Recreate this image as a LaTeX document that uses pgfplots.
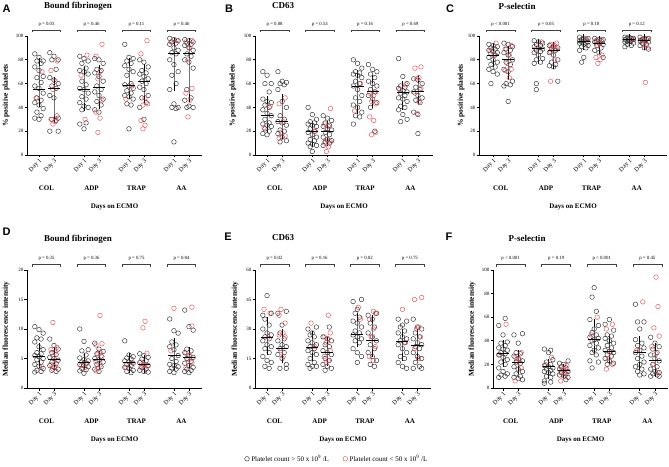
\documentclass[border=0pt]{standalone}
\usepackage{pgfplots}
\pgfplotsset{compat=1.18}
\usepackage{fontspec}
\setmainfont{Liberation Serif}
\setsansfont{Liberation Sans}
\definecolor{ptred}{RGB}{226,80,92}
\definecolor{ptblk}{RGB}{45,45,45}
\pgfplotsset{
  panel/.style={
    scale only axis, axis lines=left, axis line style={-, line width=0.9pt},
    clip=false, ymin=0,
    xtick={0,1,3,4,6,7,9,10},
    xticklabels={Day 1,Day 3,Day 1,Day 3,Day 1,Day 3,Day 1,Day 3},
    x tick label style={rotate=45, anchor=north east, font=\fontsize{6.3}{6.3}\selectfont, inner sep=0.5pt},
    y tick label style={font=\fontsize{5}{5}\selectfont, inner sep=1pt},
    tick align=outside, major tick length=2.5pt,
    tick style={black, line width=0.7pt},
    /pgf/number format/assume math mode=true,
    ylabel style={font=\bfseries\fontsize{7.5}{8}\selectfont, anchor=center},
  },
  bpt/.style={only marks, mark=o, mark size=2.3pt, ptblk, mark options={line width=0.45pt}},
  rpt/.style={only marks, mark=o, mark size=2.3pt, ptred, mark options={line width=0.45pt}},
  medi/.style={forget plot, only marks, mark=-, mark size=6pt, black, mark options={line width=0.9pt, black},
    error bars/.cd, y dir=both, y explicit,
    error bar style={line width=0.8pt, black!55},
    error mark options={mark size=4pt, line width=0.8pt, black}},
}
\newcommand{\pbr}[5]{%
  \draw[line width=0.55pt, black!75] ([yshift=3.5pt]axis cs:#1,#4) -- ([yshift=6pt]axis cs:#1,#4) -- ([yshift=6pt]axis cs:#2,#4) -- ([yshift=3.5pt]axis cs:#2,#4);
  \node[font=\fontsize{4.8}{5}\selectfont, inner sep=0pt] at ([yshift=11.5pt]axis cs:#3,#4) {#5};
}
\newcommand{\grp}{%
  \node[font=\bfseries\fontsize{7}{7}\selectfont] at ([yshift=-33pt]axis cs:0.5,0) {COL};
  \node[font=\bfseries\fontsize{7}{7}\selectfont] at ([yshift=-33pt]axis cs:3.5,0) {ADP};
  \node[font=\bfseries\fontsize{7}{7}\selectfont] at ([yshift=-33pt]axis cs:6.5,0) {TRAP};
  \node[font=\bfseries\fontsize{7}{7}\selectfont] at ([yshift=-33pt]axis cs:9.5,0) {AA};
  \node[font=\bfseries\fontsize{7}{7}\selectfont] at ([yshift=-52pt]axis description cs:0.5,0) {Days on ECMO};
}
\begin{document}
\begin{tikzpicture}
\useasboundingbox (0,0) rectangle (669pt,466pt);
% ---------------- A ----------------
\begin{axis}[panel, at={(27pt,311pt)}, anchor=south west, width=175pt, height=119pt,
  xmin=-0.8, xmax=10.87, ymax=100, ytick={0,20,...,100},
  ylabel={\% positive platelets}, ylabel style={at={(axis description cs:-0.12,0.5)}}]
\addplot[bpt] coordinates {
(-0.28,85)(0,82)(0.28,79)(-0.14,79)(0.14,77)(-0.28,74)(0,71)(0.28,66)(-0.14,65)(0.14,61)(-0.28,58)(0,56)(0.28,52)(-0.14,48)(0.14,46)(-0.28,44)(0,42)(0.28,39)(-0.14,36)(0.14,33)(-0.28,31)(0,30)
(0.72,86)(1,83)(1.28,80)(0.86,80)(1.14,72)(0.72,65)(1,63)(1.28,60)(0.86,58)(1.14,56)(0.72,50)(1,48)(1.28,31)(0.86,30)(1.14,29)(0.72,20)(1.28,20)
(2.72,83)(3,81)(3.28,79)(2.86,77)(3.14,73)(2.72,71)(3,70)(3.28,68)(2.86,62)(3.14,59)(2.72,56)(3,55)(3.28,52)(2.86,49)(3.14,47)(2.72,44)(3,41)(3.28,40)(2.86,38)(3.14,27)(2.72,26)(3,22)
(3.72,81)(4,80)(4.28,77)(3.86,72)(4.14,71)(3.72,69)(4,66)(4.28,62)(3.86,58)(4.14,55)(3.72,53)(4,50)(4.28,47)(3.86,45)(4.14,42)(3.72,38)(4,36)
(5.72,93)(6,82)(6.28,81)(5.86,79)(6.14,77)(5.72,75)(6,72)(6.28,70)(5.86,67)(6.14,60)(5.72,59)(6,58)(6.28,56)(5.86,54)(6.14,52)(5.72,50)(6,49)(6.28,47)(5.86,43)(6.14,42)(6,22)
(6.72,80)(7,78)(7.28,74)(6.86,71)(7.14,69)(6.72,68)(7,66)(7.28,64)(6.86,62)(7.14,60)(6.72,57)(7,55)(7.28,50)(6.86,48)(7.14,44)(6.72,40)(7,30)
(8.72,98)(9,97)(9.28,96)(8.86,95)(9.14,94)(8.72,93)(9,90)(9.28,88)(8.86,86)(9.14,85)(8.72,80)(9,76)(9.28,70)(8.86,67)(9.14,60)(8.72,55)(9,43)(9.28,40)(8.86,40)(9.14,39)(9,11)
(9.72,97)(10,96)(10.28,95)(9.86,94)(10.14,93)(9.72,92)(10,90)(10.28,88)(9.86,85)(10.14,83)(9.72,80)(10,78)(10.28,73)(9.86,55)(10.14,48)(9.72,46)(10,41)(10.28,40)(9.86,40)
};
\addplot[rpt] coordinates {
(0.2,70)(-0.2,48)
(1.2,79)(0.8,71)(1.07,62)(0.93,55)(1.2,33)(0.8,30)(1.07,28)(0.93,26)
(3.2,84)(2.8,67)(3.07,30)
(4.2,93)(3.8,83)(4.07,70)(3.93,64)(4.2,46)(3.8,36)(4.07,31)(3.93,19)
(6.2,58)(5.8,47)
(7.2,96)(6.8,85)(7.07,48)(6.93,42)(7.25,43)(6.8,29)(7.07,25)(6.93,22)
(9.2,96)(8.8,95)
(10.2,96)(9.8,95)(10.07,90)(9.93,80)(10.2,56)(9.8,52)(10.07,46)(9.93,32)
};
\addplot[medi] coordinates {
(0,55.5) -= (0,11.5) += (0,22.5)
(1,56) -= (0,26) += (0,6)
(3,55) -= (0,15) += (0,16)
(4,57) -= (0,15) += (0,15)
(6,58.5) -= (0,8.5) += (0,19.5)
(7,62) -= (0,15) += (0,11)
(9,85.5) -= (0,28.5) += (0,9.5)
(10,85) -= (0,37) += (0,10)
};
\pbr{-0.45}{1.45}{0.5}{100}{p = 0.03}
\pbr{2.55}{4.45}{3.5}{100}{p = 0.46}
\pbr{5.55}{7.45}{6.5}{100}{p = 0.11}
\pbr{8.55}{10.45}{9.5}{100}{p = 0.46}
\grp
\end{axis}
% ---------------- B ----------------
\begin{axis}[panel, at={(255pt,311pt)}, anchor=south west, width=178pt, height=119pt,
  xmin=-0.8, xmax=11, ymax=100, ytick={0,20,...,100},
  ylabel={\% positive platelets}, ylabel style={at={(axis description cs:-0.124,0.5)}}]
\addplot[bpt] coordinates {
(-0.28,70)(0,67)(0.28,60)(-0.14,60)(0.14,53)(-0.28,47)(0,45)(0.28,44)(-0.14,42)(0.14,40)(-0.28,38)(0,35)(0.28,33)(-0.14,30)(0.14,27)(-0.28,26)(0,25)(0.28,24)(-0.14,22)(0.14,20)(-0.28,18)(0,17)
(0.72,70)(1,62)(1.28,61)(0.86,60)(1.14,59)(0.72,55)(1,45)(1.28,40)(0.86,33)(1.14,30)(0.72,28)(1,27)(1.28,25)(0.86,21)(1.14,20)(0.72,18)(1,15)(1.28,12)(0.86,11)
(2.72,40)(3,34)(3.28,30)(2.86,28)(3.14,27)(2.72,26)(3,25)(3.28,24)(2.86,22)(3.14,20)(2.72,19)(3,17)(3.28,15)(2.86,13)(3.14,12)(2.72,10)(3,9)(3.28,8)(2.86,7)(3,3)
(3.72,33)(4,31)(4.28,29)(3.86,27)(4.14,25)(3.72,24)(4,22)(4.28,21)(3.86,19)(4.14,17)(3.72,15)(4,13)(4.28,12)(3.86,11)(4.14,10)(3.72,8)
(5.72,80)(6,77)(6.28,73)(5.86,70)(6.14,69)(5.72,68)(6,67)(6.28,65)(5.86,62)(6.14,60)(5.72,58)(6,55)(6.28,50)(5.86,48)(6.14,45)(5.72,42)(6,40)(6.28,36)(5.86,33)(6.14,32)(5.72,26)
(6.72,76)(7,72)(7.28,70)(6.86,68)(7.14,65)(6.72,62)(7,60)(7.28,58)(6.86,55)(7.14,53)(6.72,50)(7,47)(7.28,44)(6.86,40)(7.14,20)
(8.72,81)(9,66)(9.28,60)(8.86,58)(9.14,57)(8.72,56)(9,54)(9.28,53)(8.86,52)(9.14,50)(8.72,48)(9,47)(9.28,45)(8.86,41)(9.14,40)(8.72,38)(9,34)(9.28,30)(8.86,28)
(9.72,64)(10,63)(10.28,60)(9.86,57)(10.14,55)(9.72,53)(10,50)(10.28,48)(9.86,46)(10.14,44)(9.72,36)(10,34)(10,18)
};
\addplot[rpt] coordinates {
(0.2,41)(-0.2,23)
(1.2,48)(0.8,43)(1.07,28)(0.93,19)(1.2,16)(0.8,14)
(3.2,20)
(4.2,39)(3.8,26)(4.07,24)(3.93,13)(4.2,11)(3.8,10)(4.07,7)(3.93,3)
(6.2,60)(5.8,37)
(7.2,53)(6.8,52)(7.07,50)(6.93,45)(7.2,43)(6.8,32)(7.07,29)(6.93,17)(7.2,19)
(9.2,59)(8.8,55)
(10.2,74)(9.8,73)(10.07,65)(9.93,64)(10.2,56)(9.8,52)(10.07,45)(9.93,35)
};
\addplot[medi] coordinates {
(0,33.5) -= (0,10.5) += (0,12.5)
(1,28) -= (0,11) += (0,20)
(3,19.5) -= (0,9.5) += (0,5.5)
(4,19.5) -= (0,8.5) += (0,5.5)
(6,58) -= (0,20) += (0,10)
(7,53) -= (0,10) += (0,11)
(9,52.5) -= (0,11.5) += (0,6.5)
(10,53) -= (0,7) += (0,11)
};
\pbr{-0.45}{1.45}{0.5}{100}{p = 0.08}
\pbr{2.55}{4.45}{3.5}{100}{p = 0.53}
\pbr{5.55}{7.45}{6.5}{100}{p = 0.16}
\pbr{8.55}{10.45}{9.5}{100}{p = 0.69}
\grp
\end{axis}
% ---------------- C ----------------
\begin{axis}[panel, at={(479pt,311pt)}, anchor=south west, width=188pt, height=119pt,
  xmin=-0.93, xmax=11.5, ymax=100, ytick={0,20,...,100},
  ylabel={\% positive platelets}, ylabel style={at={(axis description cs:-0.096,0.5)}}]
\addplot[bpt] coordinates {
(-0.28,93)(0,92)(0.28,91)(-0.14,90)(0.14,89)(-0.28,88)(0,87)(0.28,86)(-0.14,85)(0.14,84)(-0.28,82)(0,80)(0.28,78)(-0.14,76)(0.14,74)(-0.28,72)(0,70)(0.28,68)(-0.14,60)
(0.72,94)(1,93)(1.28,91)(0.86,89)(1.14,88)(0.72,86)(1,84)(1.28,80)(0.86,78)(1.14,76)(0.72,72)(1,70)(1.28,62)(0.86,60)(1.14,59)(0.72,58)(1,45)
(2.72,96)(3,95)(3.28,94)(2.86,93)(3.14,92)(2.72,91)(3,90)(3.28,89)(2.86,88)(3.14,87)(2.72,86)(3,84)(3.28,81)(2.86,80)(3.14,78)(2.72,77)(2.86,60)(2.86,55)
(3.72,92)(4,91)(4.28,90)(3.86,89)(4.14,88)(3.72,86)(4,84)(4.28,80)(3.86,78)(4.14,76)(3.72,75)(4,74)(4.28,62)
(5.72,99)(6,98)(6.28,98)(5.86,97)(6.14,97)(5.72,96)(6,96)(6.28,95)(5.86,95)(6.14,94)(5.72,94)(6,93)(6.28,92)(5.86,91)(6.14,90)(5.72,88)(6,82)(5.86,78)
(6.72,98)(7,97)(7.28,97)(6.86,96)(7.14,96)(6.72,95)(7,94)(7.28,93)(6.86,92)(7.14,90)(6.72,88)(7,86)(7.28,82)
(8.72,99)(9,99)(9.28,98)(8.86,98)(9.14,98)(8.72,97)(9,97)(9.28,97)(8.86,96)(9.14,96)(8.72,95)(9,95)(9.28,94)(8.86,93)(9.14,92)(8.72,91)
(9.72,99)(10,98)(10.28,98)(9.86,97)(10.14,97)(9.72,96)(10,96)(10.28,95)(9.86,94)(10.14,93)(9.72,92)(10,90)(10.28,89)
};
\addplot[rpt] coordinates {
(0.2,94)(-0.2,88)(0.07,84)
(1.2,92)(0.8,89)(1.07,84)(0.93,77)(1.2,72)(0.8,71)(1.07,65)
(3.2,95)(2.8,89)
(4.2,94)(3.8,93)(4.07,92)(3.93,91)(4.2,89)(3.8,87)(4.07,80)(3.8,62)
(6.2,97)
(7.2,97)(6.8,96)(7.07,94)(6.93,92)(7.2,84)(6.8,82)(7.07,80)(6.93,77)
(9.2,97)
(10.2,98)(9.8,97)(10.07,95)(9.93,93)(10.2,90)(10.07,61)
};
\addplot[medi] coordinates {
(0,84) -= (0,7) += (0,7)
(1,80) -= (0,14) += (0,8)
(3,89.5) -= (0,9.5) += (0,4.5)
(4,87.5) -= (0,11.5) += (0,4.5)
(6,95) -= (0,3) += (0,3)
(7,94) -= (0,6) += (0,3)
(9,97) -= (0,2) += (0,1.5)
(10,96) -= (0,4) += (0,2)
};
\pbr{-0.45}{1.45}{0.5}{100}{p < 0.001}
\pbr{2.55}{4.45}{3.5}{100}{p = 0.05}
\pbr{5.55}{7.45}{6.5}{100}{p = 0.10}
\pbr{8.55}{10.45}{9.5}{100}{p = 0.12}
\grp
\end{axis}
% ---------------- D ----------------
\begin{axis}[panel, at={(27pt,78pt)}, anchor=south west, width=175pt, height=118pt,
  xmin=-0.8, xmax=10.87, ymax=20, ytick={0,5,...,20},
  ylabel={Median fluorescence intensity}, ylabel style={at={(axis description cs:-0.12,0.5)}}]
\addplot[bpt] coordinates {
(-0.28,10.4)(0,9.9)(0.28,9.3)(-0.14,8.5)(0.14,8.3)(-0.28,7.8)(0,7)(0.28,6.5)(-0.14,6)(0.14,5.8)(-0.28,5.5)(0,5.3)(0.28,5)(-0.14,4.8)(0.14,4.4)(-0.28,4)(0,3.7)(0.28,3.3)(-0.14,3)(0.14,2.8)(-0.28,2.7)
(0.72,8.3)(1,7.2)(1.28,6.6)(0.86,6)(1.14,5.7)(0.72,5.2)(1,5)(1.28,4.7)(0.86,4.4)(1.14,4.1)(0.72,3.8)(1,3.5)(1.28,3.2)(0.86,3)(1.14,2.8)
(2.72,10)(3,7.9)(3.28,6.5)(2.86,6.3)(3.14,5.6)(2.72,5.1)(3,4.8)(3.28,4.6)(2.86,4.4)(3.14,4.2)(2.72,4)(3,3.8)(3.28,3.6)(2.86,3.3)(3.14,3.1)(2.72,2.9)(3,2.5)
(3.72,7.6)(4,6.6)(4.28,6.2)(3.86,5.8)(4.14,5.4)(3.72,5)(4,4.8)(4.28,4.4)(3.86,4)(4.14,3.6)(3.72,3.2)(4,2.8)
(5.72,8)(6,5.6)(6.28,5.3)(5.86,5.1)(6.14,4.9)(5.72,4.6)(6,4.4)(6.28,4.2)(5.86,4)(6.14,3.8)(5.72,3.5)(6,3.3)(6.28,3)(5.86,2.8)(6.14,2.6)
(6.72,5.8)(7,5.5)(7.28,5.2)(6.86,4.9)(7.14,4.6)(6.72,4.3)(7,4)(7.28,3.8)(6.86,3.5)(7.14,3.2)(6.72,3)(7,2.8)(7.28,2.7)
(8.72,11.7)(9,9.7)(9.28,9.3)(8.86,7.8)(9.14,7.3)(8.72,7)(9,6.5)(9.28,5.5)(8.86,5)(9.14,4.5)(8.72,4)(9,3.8)(9.28,3.6)(8.86,3.4)(9.14,3.2)(8.72,2.8)(9,2.6)
(9.72,13.2)(10,10.4)(10.28,9.8)(9.86,6.6)(10.14,6.3)(9.72,6)(10,5.5)(10.28,5.2)(9.86,5)(10.14,4.5)(9.72,4.2)(10,3.8)(10.28,3.5)(9.86,3.2)(10.14,3)(9.72,2.8)(10,2.6)
};
\addplot[rpt] coordinates {
(0.2,3.6)
(0.93,11.1)(1.2,6.9)(0.8,6.5)(1.07,6.1)(0.93,5.4)(1.2,4.6)(0.8,4)(1.07,3.6)(0.93,3.2)
(3.2,4.2)(2.8,3.8)(3.07,3.5)
(4.07,12.3)(4.2,7.5)(3.8,7.3)(4.07,6.1)(3.93,5.8)(4.2,5.3)(3.8,4.5)(4.07,3.9)(3.93,3.3)(3.8,2.9)
(6.2,4.3)(5.8,3.5)
(7.07,11.3)(6.93,10.2)(7.2,5.9)(6.8,4.4)(7.07,4)(6.93,3.8)(7.2,3.7)(6.8,3.5)
(9,13.5)(8.8,6.3)
(10.2,13.7)(10.2,10.5)(9.8,5.9)(10.07,5.5)(9.93,4.8)(10.2,4.3)(9.8,3.5)
};
\addplot[medi] coordinates {
(0,5.4) -= (0,1.4) += (0,1.6)
(1,4.8) -= (0,1.2) += (0,1.4)
(3,4.4) -= (0,0.7) += (0,0.9)
(4,4.9) -= (0,1) += (0,0.7)
(6,4.3) -= (0,1) += (0,0.9)
(7,4) -= (0,0.7) += (0,1)
(9,5.6) -= (0,1.9) += (0,2.2)
(10,5.2) -= (0,1.2) += (0,1)
};
\pbr{-0.45}{1.45}{0.5}{20}{p = 0.35}
\pbr{2.55}{4.45}{3.5}{20}{p = 0.36}
\pbr{5.55}{7.45}{6.5}{20}{p = 0.75}
\pbr{8.55}{10.45}{9.5}{20}{p = 0.84}
\grp
\end{axis}
% ---------------- E ----------------
\begin{axis}[panel, at={(255pt,78pt)}, anchor=south west, width=176pt, height=118pt,
  xmin=-0.8, xmax=10.9, ymax=60, ytick={0,15,...,60},
  ylabel={Median fluorescence intensity}, ylabel style={at={(axis description cs:-0.114,0.5)}},
  legend style={at={(axis description cs:0.466,-0.60)}, anchor=center, draw=none, fill=none,
    legend columns=2, font=\fontsize{7}{7}\selectfont, inner sep=0pt,
    /tikz/every even column/.append style={column sep=12pt}},
  legend cell align=left]
\addplot[bpt] coordinates {
(0,47)(0.28,38)(-0.28,37)(-0.14,35)(0.14,32)(-0.28,30)(0,28)(0.28,27)(-0.14,26)(0.14,25)(-0.28,24)(0,22)(0.28,21)(-0.14,20)(0.14,18)(-0.28,16)(0,14)(0.28,13)(-0.14,11)(0.14,10)
(1.28,39)(0.72,38)(1,32)(0.86,28)(1.14,25)(0.72,24)(1,22)(1.28,21)(0.86,20)(1.14,18)(0.72,17)(1,15)(1.28,12)(0.86,10)(1.28,10)
(3.28,31)(2.72,30)(3,28)(2.86,27)(3.14,26)(2.72,24)(3,23)(3.28,22)(2.86,21)(3.14,20)(2.72,19)(3,18)(3.28,17)(2.86,15)(3.14,13)(2.72,12)(3,11)(3.28,11)(2.86,10)
(4.14,31)(3.72,26)(4,25)(4.28,24)(3.86,22)(4.14,21)(3.72,19)(4,18)(4.28,17)(3.86,15)(4.14,14)(3.72,12)(4,11)(4.28,10)(3.86,9)
(6.28,45)(5.72,44)(6,40)(5.86,38)(6.14,36)(5.72,34)(6,33)(6.28,31)(5.86,29)(6.14,28)(5.72,27)(6,26)(6.28,25)(5.86,24)(6.14,23)(5.72,20)(6,18)(6.28,16)(6,13)
(7.28,38)(6.72,37)(7,35)(6.86,33)(7.14,31)(6.72,28)(7,26)(7.28,24)(6.86,22)(7.14,20)(6.72,18)(7,16)(7.28,14)(6.86,12)(7.14,11)
(8.72,35)(9.28,34)(9,32)(8.86,31)(9.14,29)(8.72,28)(9,26)(9.28,25)(8.86,24)(9.14,23)(8.72,22)(9,20)(9.28,18)(8.86,16)(9.14,15)(8.72,13)(9,11)(9.28,10)
(9.72,35)(10,31)(10.28,30)(9.86,28)(10.14,26)(9.72,25)(10,23)(10.28,22)(9.86,21)(10.14,20)(9.72,18)(10,16)(10.28,15)(9.86,13)(10.14,11)(9.72,10)(10.28,10)
};
\addlegendentry{Platelet count > 50 x 10\textsuperscript{9} /L}
\addplot[rpt] coordinates {
(-0.2,40)(0.2,38)(0.07,26)
(0.93,40)(0.8,37)(1.2,33)(1.07,28)(0.8,27)(1.2,26)(0.93,19)(1.07,16)
(2.93,33)(3.2,21)
(4.07,37)(4.2,28)(3.8,26)(4.07,25)(3.93,23)(4.2,19)(3.8,16)(4.07,14)(3.93,13)
(6.07,41)(6.2,35)
(7.07,39)(7.2,38)(6.8,35)(7.07,30)(6.93,26)(7.2,21)(6.8,16)(7.07,14)
(9,40)(9.2,23)
(10.28,46)(9.8,45)(10.07,31)(9.93,30)(10.2,26)(9.8,20)(10.07,15)
};
\addlegendentry{Platelet count < 50 x 10\textsuperscript{9} /L}
\addplot[medi] coordinates {
(0,25.5) -= (0,6.5) += (0,8.5)
(1,20) -= (0,5) += (0,8)
(3,20.5) -= (0,4.5) += (0,6.5)
(4,18) -= (0,5) += (0,6)
(6,27) -= (0,4) += (0,9)
(7,24) -= (0,6) += (0,11)
(9,23.5) -= (0,7.5) += (0,4.5)
(10,21.5) -= (0,5.5) += (0,6.5)
};
\pbr{-0.45}{1.45}{0.5}{60}{p = 0.02}
\pbr{2.55}{4.45}{3.5}{60}{p = 0.16}
\pbr{5.55}{7.45}{6.5}{60}{p = 0.02}
\pbr{8.55}{10.45}{9.5}{60}{p = 0.75}
\grp
\end{axis}
% ---------------- F ----------------
\begin{axis}[panel, at={(493pt,78pt)}, anchor=south west, width=175pt, height=118pt,
  xmin=-0.66, xmax=10.86, ymax=100, ytick={0,20,...,100},
  ylabel={Median fluorescence intensity}, ylabel style={at={(axis description cs:-0.12,0.5)}}]
\addplot[bpt] coordinates {
(0.14,59)(-0.28,53)(0,45)(0.28,39)(-0.14,38)(0.14,36)(-0.28,34)(0,33)(0.28,32)(-0.14,30)(0.14,29)(-0.28,28)(0,26)(0.28,24)(-0.14,22)(0.14,20)(-0.28,17)(0,14)(0.28,12)(-0.14,11)(0.14,10)(-0.28,9)
(1.28,46)(0.72,45)(1,38)(0.86,30)(1.14,29)(0.72,27)(1,25)(1.28,23)(0.86,22)(1.14,21)(0.72,18)(1,16)(1.28,14)(0.86,12)(1.14,10)(0.72,9)(1,8)(1.28,7)
(2.72,33)(3.14,32)(3,30)(3.28,24)(2.86,22)(3.14,20)(2.72,19)(3,18)(3.28,17)(2.86,16)(3.14,15)(2.72,14)(3,13)(3.28,12)(2.86,10)(3.14,9)(2.72,6)(3.14,5)(2.72,4)
(4.28,23)(3.72,21)(4,20)(3.86,18)(4.14,17)(3.72,16)(4,15)(4.28,14)(3.86,13)(4.14,12)(3.72,11)(4,10)(4.28,9)(4.14,7)
(6,85)(5.86,77)(6.14,65)(5.72,58)(6.28,53)(6,50)(5.86,47)(6.14,45)(5.72,43)(6.28,42)(6,41)(5.86,40)(6.14,38)(5.72,36)(6.28,34)(6,32)(5.86,30)(6.14,28)(5.72,23)(6.28,22)(5.86,17)
(7,58)(6.72,54)(7.28,49)(6.86,45)(7.14,44)(6.72,42)(7,40)(7.28,38)(6.86,36)(7.14,34)(6.72,32)(7,31)(7.28,30)(6.86,28)(7.14,27)(6.72,25)(7,23)(7.28,21)(6.86,20)
(8.72,71)(8.86,56)(9.28,56)(9,50)(8.72,41)(9.14,38)(8.86,36)(9.28,34)(9,32)(8.72,30)(9.14,27)(8.86,25)(9.28,22)(9,20)(8.72,18)(9.14,16)(8.86,14)(9.28,12)(9,11)
(9.72,43)(10,38)(10.28,35)(9.86,33)(10.14,30)(9.72,28)(10,25)(10.28,23)(9.86,20)(10.14,18)(9.72,16)(10,14)(10.28,13)(9.86,12)(10.14,11)(9.72,10)(10.28,10)
};
\addplot[rpt] coordinates {
(0.2,54)(-0.2,28)
(1.2,30)(0.8,26)(1.07,24)(0.93,22)(1.2,17)(0.8,6)
(3.2,26)(2.8,20)
(4.2,19)(3.8,18)(4.07,16)(3.93,15)(4.2,14)(3.8,13)(4.07,10)(3.8,6)
(6.2,60)(5.8,45)
(7.2,54)(6.8,50)(7.07,30)(6.93,25)(7.2,20)(6.8,16)
(9.2,73)(8.8,32)
(10.07,94)(10.2,69)(9.93,51)(10.28,44)(9.8,35)(10.07,29)(9.93,20)(10.2,13)
};
\addplot[medi] coordinates {
(0,29) -= (0,8) += (0,8)
(1,22) -= (0,7) += (0,7)
(3,18) -= (0,7) += (0,3)
(4,14.5) -= (0,2.5) += (0,2.5)
(6,41.5) -= (0,9.5) += (0,13.5)
(7,31) -= (0,7) += (0,10)
(9,30.5) -= (0,11.5) += (0,10.5)
(10,23) -= (0,10) += (0,12)
};
\pbr{-0.45}{1.45}{0.5}{100}{p < 0.001}
\pbr{2.55}{4.45}{3.5}{100}{p = 0.19}
\pbr{5.55}{7.45}{6.5}{100}{p < 0.001}
\pbr{8.55}{10.45}{9.5}{100}{p = 0.45}
\grp
\end{axis}
% ---------------- letters and titles ----------------
\begin{scope}[every node/.style={inner sep=0pt}]
\node[font=\sffamily\bfseries\fontsize{11}{11}\selectfont] at (6.5pt,457pt) {A};
\node[font=\sffamily\bfseries\fontsize{11}{11}\selectfont] at (229pt,457pt) {B};
\node[font=\sffamily\bfseries\fontsize{11}{11}\selectfont] at (450pt,457pt) {C};
\node[font=\sffamily\bfseries\fontsize{11}{11}\selectfont] at (6.5pt,234pt) {D};
\node[font=\sffamily\bfseries\fontsize{11}{11}\selectfont] at (228pt,229pt) {E};
\node[font=\sffamily\bfseries\fontsize{11}{11}\selectfont] at (449pt,229pt) {F};
\node[font=\bfseries\fontsize{9}{9}\selectfont] at (78pt,460pt) {Bound fibrinogen};
\node[font=\bfseries\fontsize{9}{9}\selectfont] at (283pt,460pt) {CD63};
\node[font=\bfseries\fontsize{9}{9}\selectfont] at (517pt,460pt) {P-selectin};
\node[font=\bfseries\fontsize{9}{9}\selectfont] at (78pt,227pt) {Bound fibrinogen};
\node[font=\bfseries\fontsize{9}{9}\selectfont] at (283pt,228pt) {CD63};
\node[font=\bfseries\fontsize{9}{9}\selectfont] at (527pt,228pt) {P-selectin};
\end{scope}
\end{tikzpicture}
\end{document}
